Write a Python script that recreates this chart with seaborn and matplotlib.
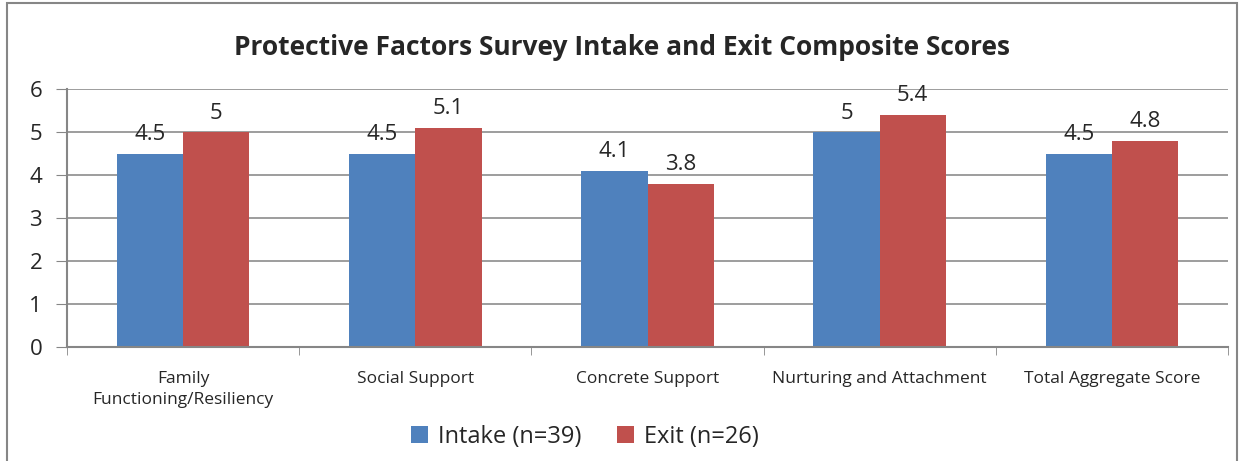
import pandas as pd
import matplotlib.pyplot as plt
import seaborn as sns
from matplotlib.patches import Rectangle

categories = ["Family\nFunctioning/Resiliency", "Social Support", "Concrete Support",
              "Nurturing and Attachment", "Total Aggregate Score"]
intake = [4.5, 4.5, 4.1, 5.0, 4.5]
exit_scores = [5.0, 5.1, 3.8, 5.4, 4.8]
series = ["Intake (n=39)", "Exit (n=26)"]
colors = ["#4F81BD", "#C0504D"]

df = pd.DataFrame({
    "Category": categories * 2,
    "Score": intake + exit_scores,
    "Series": [series[0]] * len(categories) + [series[1]] * len(categories),
})

sns.set_style("white")
plt.rcParams['font.family'] = ['Open Sans', 'DejaVu Sans']

fig = plt.figure(figsize=(12.44, 4.61), dpi=100)
ax = fig.add_axes([0.054, 0.247, 0.933, 0.56])

sns.barplot(data=df, x="Category", y="Score", hue="Series", palette=colors,
            width=0.57, saturation=1, linewidth=0, ax=ax, legend=True)

# data labels
for cont in ax.containers:
    ax.bar_label(cont, fmt="%g", padding=6, fontsize=16)

ax.set_ylim(0, 6)
ax.set_xlim(-0.5, 4.5)
ax.set_yticks(range(7))
ax.yaxis.grid(True, color="#8c8c8c", linewidth=1.2)
ax.set_axisbelow(True)
ax.set_xlabel("")
ax.set_ylabel("")
for s in ["top", "right"]:
    ax.spines[s].set_visible(False)
for s in ["left", "bottom"]:
    ax.spines[s].set_color("#868686")
    ax.spines[s].set_linewidth(1.5)

ax.tick_params(axis="y", labelsize=16, length=8, color="#868686", left=True, pad=10)
ax.tick_params(axis="x", which="major", labelsize=12.5, length=0, pad=17)
for lbl in ax.get_xticklabels():
    lbl.set_linespacing(1.4)
ax.set_xticks([i - 0.5 for i in range(6)], minor=True)
ax.tick_params(axis="x", which="minor", length=6, color="#868686", bottom=True)

ax.legend_.remove()
handles, labels = ax.get_legend_handles_labels()
fig.legend(handles, labels, loc="center", bbox_to_anchor=(0.47, 0.052), ncol=2,
           frameon=False, fontsize=17, handlelength=0.75, handleheight=0.75,
           columnspacing=1.5, handletextpad=0.4)

fig.suptitle("Protective Factors Survey Intake and Exit Composite Scores",
             fontsize=19, fontweight="bold", y=0.897, va="center")

fig.patches.append(Rectangle((0.0056, -0.1), 0.9887, 1.093, transform=fig.transFigure,
                             fill=False, edgecolor="#868686", linewidth=1.5))

fig.savefig("out.png", dpi=100)
